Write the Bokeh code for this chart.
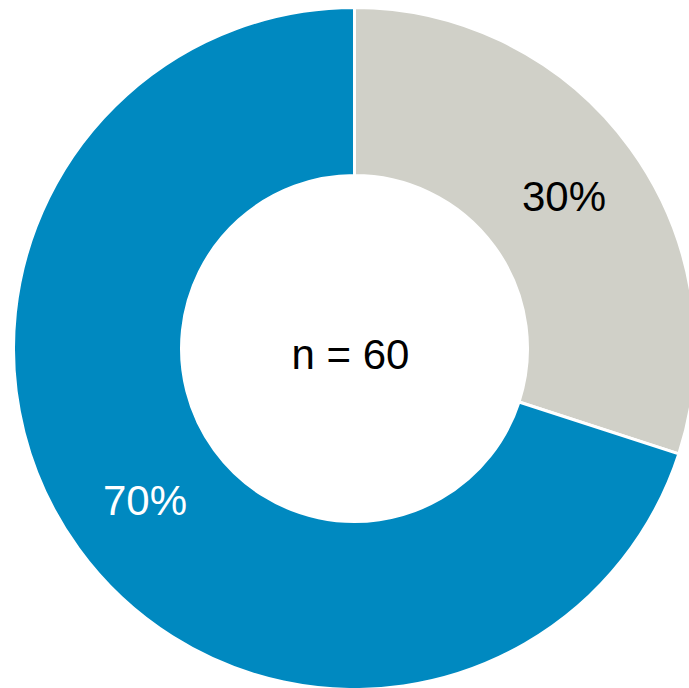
import math
from bokeh.plotting import figure
from bokeh.models import ColumnDataSource
from bokeh.core.properties import value
from bokeh.embed import file_html
from bokeh.resources import INLINE

# Share of respondents by group
labels = ["30%", "70%"]
shares = [30, 70]
colors = ["#D0D0C8", "#0089C0"]
text_colors = ["black", "white"]
center_label = "n = 60"

W, H = 689, 688
cx, cy = 354, H - 348
r_out, r_in = 341, 173

# Slices run clockwise from 12 o'clock
total = sum(shares)
starts, ends, lx, ly = [], [], [], []
a = math.pi / 2
r_lab = (r_out + r_in) / 2 + 2
for s in shares:
    sweep = 2 * math.pi * s / total
    starts.append(a)
    ends.append(a - sweep)
    mid = a - sweep / 2
    lx.append(cx + r_lab * math.cos(mid))
    ly.append(cy + r_lab * math.sin(mid))
    a -= sweep

src = ColumnDataSource(dict(start=starts, end=ends, color=colors, label=labels,
                            lx=lx, ly=ly, tc=text_colors))

p = figure(width=W, height=H, x_range=(0, W), y_range=(0, H),
           output_backend="svg", toolbar_location=None, min_border=0)
p.axis.visible = False
p.grid.visible = False
p.outline_line_color = None
p.background_fill_color = "white"
p.border_fill_color = "white"

p.annular_wedge(x=cx, y=cy, inner_radius=r_in, outer_radius=r_out,
                start_angle="start", end_angle="end", direction="clock",
                fill_color="color", line_color="white", line_width=3,
                source=src)

p.text(x="lx", y="ly", text="label", text_color="tc", source=src,
       text_font=value("Liberation Sans"), text_font_size="42px",
       text_align="center", text_baseline="middle")

# Sample size in the hole, sitting slightly left of and below the centre
p.text(x=[cx - 4], y=[cy - 6], text=[center_label], text_color="black",
       text_font=value("Liberation Sans"), text_font_size="42px",
       text_align="center", text_baseline="middle")

open("out.html", "w").write(file_html(p, INLINE))
